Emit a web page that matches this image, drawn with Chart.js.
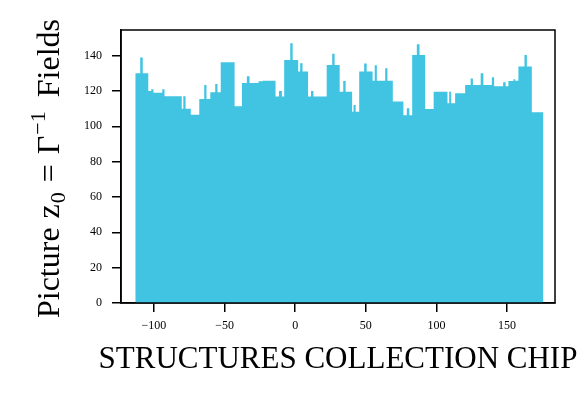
<!DOCTYPE html>
<html>
<head>
<meta charset="utf-8">
<script src="https://cdn.jsdelivr.net/npm/chart.js@4/dist/chart.umd.min.js"></script>
<style>
    html, body { margin: 0; padding: 0; background: #ffffff; }
    #wrap { width: 586px; height: 406px; }
</style>
</head>
<body>
<div id="wrap"><canvas id="graphHisto"></canvas></div>
<script>
//Histogramme - données
var tab_Bords = [
    -113.2, -109.7, -107.9, -104.0, -101.9, -100.3, -94.1, -92.5, -80.3, -79.2,
    -77.6, -73.9, -67.9, -64.4, -62.8, -60.1, -56.6, -55.0, -52.7, -42.9,
    -37.7, -34.2, -32.3, -26.0, -22.9, -13.9, -11.5, -9.4, -7.8, -3.5,
    -1.8, 2.1, 3.5, 5.2, 9.1, 11.2, 12.9, 22.3, 26.2, 27.9,
    31.5, 34.0, 35.7, 40.3, 41.3, 42.8, 45.3, 48.8, 50.6, 54.8,
    56.3, 57.8, 63.7, 65.3, 69.1, 76.6, 79.0, 80.8, 82.8, 86.1,
    88.0, 92.0, 98.0, 107.8, 109.0, 110.4, 113.2, 120.3, 124.2, 125.8,
    131.3, 133.2, 139.2, 140.8, 147.2, 149.0, 150.9, 154.5, 155.7, 158.0,
    162.3, 164.0, 167.5, 175.7
];
var tab_Hauteurs = [
    130, 139, 130, 120, 121, 119, 121, 117, 110, 117,
    110, 106.5, 115.5, 123.4, 115.5, 119.3, 124, 119.3, 136.3, 111.3,
    124.5, 128.3, 124.5, 125.5, 125.8, 116.8, 120, 116.8, 137.5, 147,
    137.5, 131, 135.7, 131, 116.8, 120, 116.8, 134.7, 141, 134.7,
    119.6, 125.7, 119.6, 108.3, 112.1, 108.3, 131, 135.5, 131, 125.8,
    134.5, 125.8, 132.8, 125.8, 114, 106.2, 110.2, 106.2, 140.4, 146.5,
    140.4, 109.8, 119.6, 113, 119.6, 113, 118.7, 123.4, 127, 123.4,
    130, 123.4, 127.7, 122.6, 125, 122.6, 125.6, 126.6, 125.8, 133.8,
    140.4, 133.8, 108
];
var tab_TicksX = [-100, -50, 0, 50, 100, 150];
var tab_TicksY = [0, 20, 40, 60, 80, 100, 120, 140];
var titreX = 'STRUCTURES COLLECTION CHIP';
var titreY = ['Picture', 'z', '0', '=', 'Γ', '−1', 'Fields'];

var X_MIN = -123.3, X_MAX = 183.9;
var Y_MIN = 0, Y_MAX = 154.5;
var police = "'Liberation Serif', 'DejaVu Serif', serif";

//Points du contour en escalier (palier = hauteur du point précédent)
function BuildSteps(bords, hauteurs) {
    var pts = [];
    for (var i = 0; i < hauteurs.length; i++) {
        pts.push({ x: bords[i], y: hauteurs[i] });
    }
    pts.push({ x: bords[bords.length - 1], y: hauteurs[hauteurs.length - 1] });
    return pts;
}

function FormatTick(v) {
    return String(v).replace('-', '\u2212');
}

//Cadre + titres des axes
var cadrePlugin = {
    id: 'cadre',
    afterDraw: function (chart) {
        var ctx = chart.ctx;
        var a = chart.chartArea;
        ctx.save();
        ctx.strokeStyle = '#000000';
        ctx.lineWidth = 1.5;
        ctx.strokeRect(a.left, a.top, a.right - a.left, a.bottom - a.top);

        //titre X
        ctx.fillStyle = '#000000';
        ctx.font = '31px ' + police;
        ctx.textAlign = 'center';
        ctx.textBaseline = 'alphabetic';
        ctx.fillText(titreX, (a.left + a.right) / 2, 368);

        //titre Y avec indice et exposant
        var big = '32px ' + police;
        var small = '22px ' + police;
        var styles = [big, big, small, big, big, small, big];
        var shifts = [0, 0, 6, 0, 0, -14, 0];
        var gaps = [9, 1, 10, 10, 1, 14, 0];
        var total = 0;
        for (var i = 0; i < titreY.length; i++) {
            ctx.font = styles[i];
            total += ctx.measureText(titreY[i]).width + gaps[i];
        }
        ctx.translate(59, (a.top + a.bottom) / 2 + 2);
        ctx.rotate(-Math.PI / 2);
        ctx.textAlign = 'left';
        var x = -total / 2;
        for (var j = 0; j < titreY.length; j++) {
            ctx.font = styles[j];
            ctx.fillText(titreY[j], x, shifts[j]);
            x += ctx.measureText(titreY[j]).width + gaps[j];
        }
        ctx.restore();
    }
};

function DisplayGraphHisto(graphId) {
    var ctx = document.getElementById(graphId).getContext('2d');
    var chart = new Chart(ctx, {
        type: 'line',
        data: {
            datasets: [{
                data: BuildSteps(tab_Bords, tab_Hauteurs),
                stepped: 'before',
                fill: 'origin',
                backgroundColor: '#40c4e2',
                borderColor: 'rgba(0,0,0,0)',
                borderWidth: 0,
                pointRadius: 0,
                tension: 0
            }]
        },
        options: {
            responsive: true,
            maintainAspectRatio: false,
            animation: false,
            layout: { padding: { top: 30, right: 31, left: 0, bottom: 0 } },
            plugins: {
                legend: { display: false },
                tooltip: { enabled: false }
            },
            scales: {
                x: {
                    type: 'linear',
                    min: X_MIN,
                    max: X_MAX,
                    afterBuildTicks: function (axis) {
                        axis.min = X_MIN;
                        axis.max = X_MAX;
                        axis.ticks = tab_TicksX.map(function (v) { return { value: v }; });
                    },
                    afterFit: function (axis) { axis.height = 406 - 303; },
                    border: { display: true, color: '#000000', width: 1.5 },
                    grid: { display: true, drawOnChartArea: false, drawTicks: true, tickLength: 9, color: '#000000', lineWidth: 1.5 },
                    ticks: {
                        color: '#000000',
                        font: { family: police, size: 12 },
                        padding: 7,
                        maxRotation: 0,
                        autoSkip: false,
                        callback: function (v) { return FormatTick(v); }
                    }
                },
                y: {
                    type: 'linear',
                    min: Y_MIN,
                    max: Y_MAX,
                    afterBuildTicks: function (axis) {
                        axis.min = Y_MIN;
                        axis.max = Y_MAX;
                        axis.ticks = tab_TicksY.map(function (v) { return { value: v }; });
                    },
                    afterFit: function (axis) { axis.width = 121; },
                    border: { display: true, color: '#000000', width: 1.5 },
                    grid: { display: true, drawOnChartArea: false, drawTicks: true, tickLength: 9, color: '#000000', lineWidth: 1.5 },
                    ticks: {
                        color: '#000000',
                        font: { family: police, size: 12 },
                        padding: 10,
                        autoSkip: false,
                        callback: function (v) { return FormatTick(v); }
                    }
                }
            }
        },
        plugins: [cadrePlugin]
    });
}

DisplayGraphHisto('graphHisto');
</script>
</body>
</html>
